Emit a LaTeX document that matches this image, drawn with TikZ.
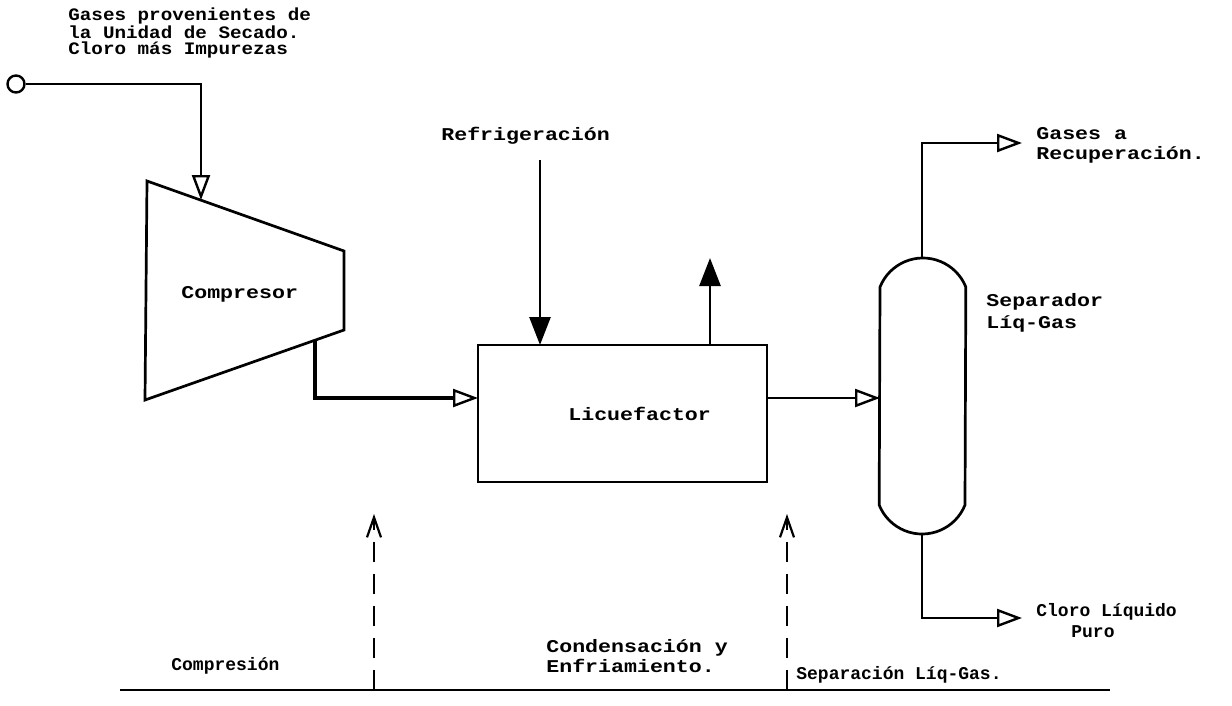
\documentclass[tikz,border=0pt]{standalone}
\usepackage{fontspec}
\newfontfamily\tw{Liberation Mono}[FakeStretch=1.2]
\newfontfamily\tws{Liberation Mono}[FakeStretch=1.1]
\newfontfamily\twn{Liberation Mono}
\usetikzlibrary{arrows.meta}
\begin{document}
\begin{tikzpicture}[x=1pt,y=-1pt,line width=2.7pt,line join=miter,
  lbl/.style={font={\tw\bfseries\fontsize{18}{20}\selectfont},inner sep=0pt,align=left,anchor=base west},
  slbl/.style={font={\twn\bfseries\fontsize{18}{18}\selectfont},inner sep=0pt,align=left,anchor=base west},
  tlbl/.style={font={\tws\bfseries\fontsize{17.5}{16}\selectfont},inner sep=0pt,align=left,anchor=base west},
  openarr/.style={-{Triangle[open,length=25pt,width=18pt,line width=2.4pt]}},
  fillarr/.style={-{Triangle[length=28pt,width=21pt]}},
  dasharr/.style={-{Straight Barb[length=20pt,width=14pt,line width=2.2pt]},dash pattern=on 20pt off 12pt,line width=2.2pt},
  thick2/.style={line width=3.6pt}]
\useasboundingbox (0,0) rectangle (1232,705);

% inlet circle
\node[circle,draw,minimum size=17pt,inner sep=0pt,line width=2.4pt] (src) at (16,84) {};
% compressor
\coordinate (ctl) at (147,181);
\coordinate (ctr) at (344,251);
\coordinate (cbr) at (344,330);
\coordinate (cbl) at (145,400);
\draw (ctl) -- (ctr) -- (cbr) -- (cbl) -- cycle;
\coordinate (cin) at (201,200);
\coordinate (cout) at (315,340);
\node[lbl] (comp) at (180,298) {Compresor};
\draw[openarr] (src.east) -| (cin);

% licuefactor
\node[draw,minimum width=289pt,minimum height=137pt,inner sep=0pt,outer sep=0pt] (liq) at (622.5,413.5) {};
\node[lbl] (liqt) at (567,420) {Licuefactor};
\draw[openarr,thick2] (cout) |- (liq.west |- 0,398);

% refrigeration
\node[lbl] (refr) at (440,140) {Refrigeración};
\coordinate (rtop) at (540,160);
\draw[fillarr] (rtop) -- (rtop |- liq.north);
\coordinate (utop) at (710,258);
\draw[fillarr] (utop |- liq.north) -- (utop);

% separator
\coordinate (stop) at (922,258);
\coordinate (sbot) at (922,533);
\draw (880,287) arc[start angle=158.1,end angle=21.9,radius=46.25pt]
      -- (965,505) arc[start angle=-21.9,end angle=-158.1,radius=46.25pt] -- cycle;
\coordinate (sin) at (880,398);
\draw[openarr] (liq.east |- sin) -- (sin);

% gases out
\coordinate (gout) at (1022,143);
\draw[openarr] (stop) |- (gout);
\node[lbl] (gast) at (1035,159) {Gases a\\Recuperación.};
% liquid out
\coordinate (lout) at (1022,618);
\draw[openarr] (sbot) |- (lout);
\node[lbl] (sept) at (985,328) {Separador\\[2pt]Líq-Gas};
\node[slbl] (clt) at (1035,616) {Cloro Líquido};
\node[slbl] (purt) at (1070,637) {Puro};

% top-left text
\node[tlbl] (srct) at (67,54) {Gases provenientes de\\la Unidad de Secado.\\Cloro más Impurezas};

% bottom
\coordinate (bl) at (120,690);
\coordinate (br) at (1110,690);
\draw[line width=2.4pt] (bl) -- (br);
\coordinate (d1b) at (374,690);
\coordinate (d1t) at (374,514);
\coordinate (d2b) at (787,690);
\coordinate (d2t) at (787,514);
\draw[dasharr] (d1b) -- (d1t);
\draw[dasharr] (d2b) -- (d2t);
\node[slbl] (t1) at (170,670) {Compresión};
\node[lbl] (t2) at (545,672) {Condensación y\\Enfriamiento.};
\node[slbl] (t3) at (795,679) {Separación Líq-Gas.};
\end{tikzpicture}
\end{document}
